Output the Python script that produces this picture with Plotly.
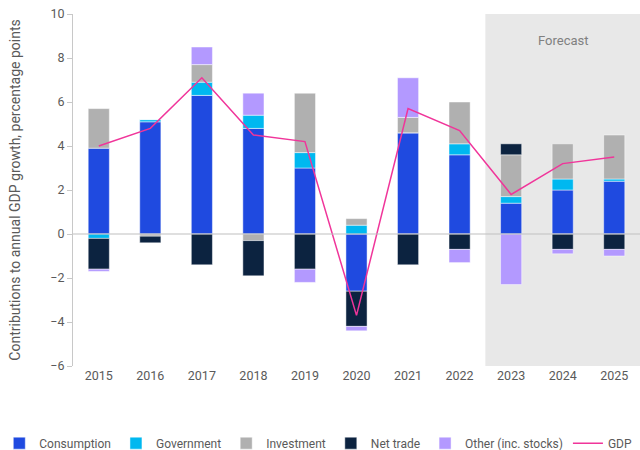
import plotly.graph_objects as go

years = ["2015", "2016", "2017", "2018", "2019", "2020", "2021", "2022", "2023", "2024", "2025"]
consumption = [3.9, 5.1, 6.3, 4.8, 3.0, -2.6, 4.6, 3.6, 1.4, 2.0, 2.4]
government = [-0.2, 0.1, 0.6, 0.6, 0.7, 0.4, 0.0, 0.5, 0.3, 0.5, 0.1]
investment = [1.8, -0.1, 0.8, -0.3, 2.7, 0.3, 0.7, 1.9, 1.9, 1.6, 2.0]
net_trade = [-1.4, -0.3, -1.4, -1.6, -1.6, -1.6, -1.4, -0.7, 0.5, -0.7, -0.7]
other = [-0.1, 0.0, 0.8, 1.0, -0.6, -0.2, 1.8, -0.6, -2.3, -0.2, -0.3]
gdp = [4.0, 4.8, 7.1, 4.5, 4.2, -3.7, 5.7, 4.7, 1.8, 3.2, 3.5]

series = [
    ("Consumption", consumption, "#1f4ae0"),
    ("Government", government, "#00b8f0"),
    ("Investment", investment, "#b0b0b0"),
    ("Net trade", net_trade, "#0c2340"),
    ("Other (inc. stocks)", other, "#b399ff"),
]

font_family = "Roboto, Liberation Sans, sans-serif"
text_grey = "#5a5a5a"

fig = go.Figure()
for name, vals, color in series:
    fig.add_trace(go.Bar(
        x=years, y=vals, name=name,
        marker=dict(color=color, line=dict(color="rgba(255,255,255,0.6)", width=0.8)),
    ))

fig.add_trace(go.Scatter(
    x=years, y=gdp, name="GDP", mode="lines",
    line=dict(color="#f0359a", width=1.5),
))

# Forecast shading behind the bars
fig.add_shape(
    type="rect", xref="x", yref="y",
    x0=7.5, x1=10.5, y0=-6, y1=10,
    fillcolor="#e8e8e8", line=dict(width=0), layer="below",
)
fig.add_annotation(
    x=9, y=8.8, xref="x", yref="y", text="Forecast", showarrow=False,
    font=dict(family=font_family, size=13, color="#808080"),
)
# Zero line
fig.add_shape(
    type="line", xref="paper", yref="y", x0=0, x1=1, y0=0, y1=0,
    line=dict(color="#c0c0c0", width=1.2), layer="above",
)

fig.update_layout(
    width=640, height=450,
    margin=dict(l=73, r=0, t=14, b=84, autoexpand=False),
    barmode="relative",
    bargap=0.59,
    plot_bgcolor="white", paper_bgcolor="white",
    font=dict(family=font_family, size=12, color=text_grey),
    showlegend=True,
    legend=dict(
        orientation="h", x=-0.13, y=-0.178, xanchor="left", yanchor="top",
        font=dict(family=font_family, size=12, color=text_grey),
        itemwidth=30, tracegroupgap=0,
    ),
)

fig.update_xaxes(
    type="category", range=[-0.5, 10.5],
    showgrid=False, showline=False, zeroline=False,
    ticks="", tickfont=dict(size=12.5, color=text_grey),
)
fig.update_yaxes(
    range=[-6, 10], dtick=2, tick0=-6,
    showgrid=False, zeroline=False, automargin=False,
    showline=True, linecolor="#c8c8c8", linewidth=1,
    ticks="outside", ticklen=5, tickcolor="#c8c8c8",
    tickfont=dict(size=12.5, color=text_grey),
    title=dict(text="Contributions to annual GDP growth, percentage points",
               font=dict(size=14, color=text_grey), standoff=26),
)

fig.write_html("out.html")
